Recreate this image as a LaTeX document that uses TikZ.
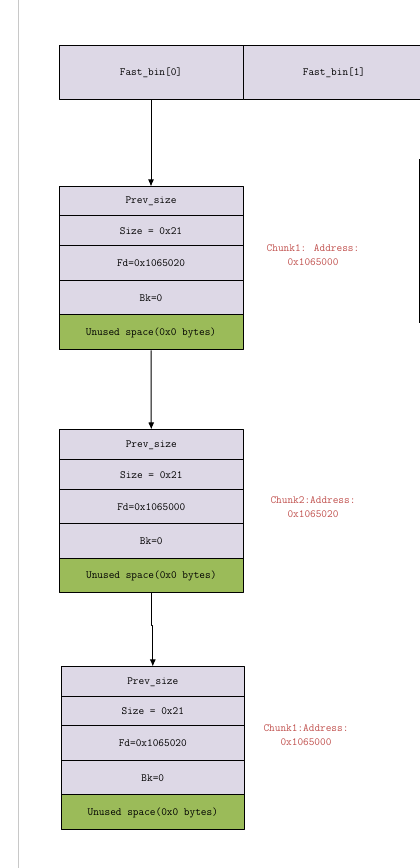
\documentclass[tikz,border=0pt]{standalone}
\usepackage{fontspec}
\usepackage{tikz}
\usetikzlibrary{arrows.meta}
\usetikzlibrary{shapes, positioning}
\definecolor{cellpurple}{RGB}{221,216,230}
\definecolor{cellgreen}{RGB}{155,187,89}
\definecolor{addrred}{RGB}{192,80,77}
\definecolor{edgegrey}{RGB}{200,200,200}
\tikzset{
  cell/.style={draw=black,line width=1bp,fill=cellpurple,minimum width=184bp,inner sep=0pt,
    font=\ttfamily\fontsize{11bp}{12bp}\selectfont},
  unused/.style={cell,fill=cellgreen},
  addr/.style={align=center,text=addrred,inner sep=0pt,
    font=\ttfamily\fontsize{11bp}{14bp}\selectfont},
}
\begin{document}
\begin{tikzpicture}[>={Latex[length=7bp,width=6bp]},line join=bevel,]
%%
\useasboundingbox (0bp,0bp) rectangle (420bp,868bp);
\begin{scope}
\clip (0bp,0bp) rectangle (420bp,868bp);
\draw [edgegrey,line width=1.5bp] (18.5bp,0bp) -- (18.5bp,868bp);
\node (bin_0) at (151bp,795bp) [cell,minimum height=54bp] {Fast\_bin[0]};
  \node (bin_1) at (334bp,795bp) [cell,minimum width=182bp,minimum height=54bp] {Fast\_bin[1]};
\draw [black,line width=1bp] (419.3bp,709bp) -- (419.3bp,545bp);
\end{scope}
%
\node (c1_prev) at (151bp,666.5bp) [cell,minimum height=29bp] {Prev\_size};
  \node (c1_size) at (151bp,637bp) [cell,minimum height=30bp] {Size = 0x21};
  \node (c1_fd) at (151bp,604.5bp) [cell,minimum height=35bp] {Fd=0x1065020};
  \node (c1_bk) at (151bp,570bp) [cell,minimum height=34bp] {Bk=0};
  \node (c1_unused) at (151bp,535.5bp) [unused,minimum height=35bp] {Unused space(0x0 bytes)};
  \node (c1_addr) at (313bp,613bp) [addr] {Chunk1: Address:\\0x1065000};
%
\node (c2_prev) at (151.3bp,423bp) [cell,minimum height=30bp] {Prev\_size};
  \node (c2_size) at (151.3bp,393bp) [cell,minimum height=30bp] {Size = 0x21};
  \node (c2_fd) at (151.3bp,361bp) [cell,minimum height=34bp] {Fd=0x1065000};
  \node (c2_bk) at (151.3bp,326.5bp) [cell,minimum height=35bp] {Bk=0};
  \node (c2_unused) at (151.3bp,292bp) [unused,minimum height=34bp] {Unused space(0x0 bytes)};
  \node (c2_addr) at (313bp,361bp) [addr] {Chunk2:Address:\\0x1065020};
%
\node (c3_prev) at (152.8bp,186bp) [cell,minimum width=183bp,minimum height=30bp] {Prev\_size};
  \node (c3_size) at (152.8bp,156.5bp) [cell,minimum width=183bp,minimum height=29bp] {Size = 0x21};
  \node (c3_fd) at (152.8bp,124.5bp) [cell,minimum width=183bp,minimum height=35bp] {Fd=0x1065020};
  \node (c3_bk) at (152.8bp,90bp) [cell,minimum width=183bp,minimum height=34bp] {Bk=0};
  \node (c3_unused) at (152.8bp,55.5bp) [unused,minimum width=183bp,minimum height=35bp] {Unused space(0x0 bytes)};
  \node (c3_addr) at (306bp,133bp) [addr] {Chunk1:Address:\\0x1065000};
%
  \draw [black,line width=1bp,->] (bin_0) -- (c1_prev);
  \draw [black,line width=1bp,->] (c1_unused) -- (c2_prev);
  \draw [black,line width=1bp,->] (c2_unused.south) -- ++(0bp,-32bp) -| (c3_prev.north);
%
\end{tikzpicture}
\end{document}
